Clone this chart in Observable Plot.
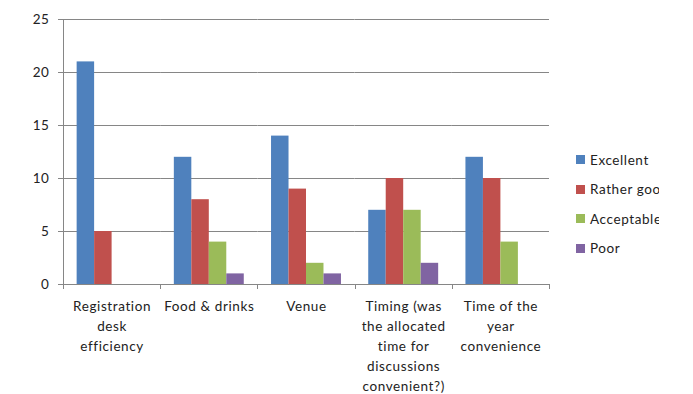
<!DOCTYPE html>
<html>
<head>
<meta charset="utf-8">
<script src="https://cdn.jsdelivr.net/npm/d3@7"></script>
<script src="https://cdn.jsdelivr.net/npm/@observablehq/plot@0.6"></script>
<style>
  html, body { margin: 0; padding: 0; background: #fff; overflow: hidden; }
  #wrap { position: relative; width: 693px; height: 394px; font-family: Lato, "Open Sans", sans-serif; }
  #wrap svg text { letter-spacing: 0.6px; }
  #legend { position: absolute; left: 576px; top: 145px; width: 83px; overflow: hidden; white-space: nowrap; }
  .row { display: flex; align-items: center; height: 29.5px; font-size: 13.5px; letter-spacing: 0.6px; color: #222; }
  .sw { width: 9px; height: 9px; margin-right: 5px; flex: none; }
</style>
</head>
<body>
<div id="wrap"></div>
<script>
// Survey categories and their axis labels (line breaks as wrapped on the axis)
const categories = ["Registration desk efficiency", "Food & drinks", "Venue",
  "Timing (was the allocated time for discussions convenient?)", "Time of the year convenience"];
const categoryLabels = ["Registration\ndesk\nefficiency", "Food & drinks", "Venue",
  "Timing (was\nthe allocated\ntime for\ndiscussions\nconvenient?)", "Time of the\nyear\nconvenience"];

// Rating series and response counts per category
const series = ["Excellent", "Rather good", "Acceptable", "Poor"];
const colors = ["#4F81BD", "#C0504D", "#9BBB59", "#8064A2"];
const excellent  = [21, 12, 14, 7, 12];
const ratherGood = [5, 8, 9, 10, 10];
const acceptable = [0, 4, 2, 7, 4];
const poor       = [0, 1, 1, 2, 0];
const yTicks = [0, 5, 10, 15, 20, 25];

const valuesBySeries = [excellent, ratherGood, acceptable, poor];
const data = [];
categories.forEach((c, i) => series.forEach((s, j) => {
  data.push({category: c, series: s, value: valuesBySeries[j][i]});
}));

const labelOf = new Map(categories.map((c, i) => [c, categoryLabels[i]]));

const chart = Plot.plot({
  width: 693,
  height: 394,
  marginLeft: 63,
  marginRight: 144,
  marginTop: 19,
  marginBottom: 110,
  style: {fontFamily: "Lato, 'Open Sans', sans-serif", fontSize: "13.5px", color: "#222", background: "#fff"},
  fx: {domain: categories, padding: 0, round: false, label: null},
  x: {domain: series, axis: null, paddingInner: 0, paddingOuter: 0.78, round: false},
  y: {domain: [0, 25], label: null},
  color: {domain: series, range: colors},
  marks: [
    Plot.gridY(yTicks, {stroke: "#868686", strokeOpacity: 1, strokeWidth: 1}),
    Plot.barY(data, {fx: "category", x: "series", y: "value", fill: "series"}),
    Plot.ruleY([0], {stroke: "#868686", strokeWidth: 1}),
    Plot.axisY(yTicks, {tickSize: 5, tickPadding: 9, stroke: "#868686", fill: "#222", label: null, fontSize: 13.5}),
    Plot.axisFx({anchor: "bottom", tickSize: 0, tickPadding: 12, lineHeight: 1.48, lineAnchor: "top",
      tickFormat: c => labelOf.get(c), fill: "#222", label: null, fontSize: 13.5})
  ]
});

// Left axis line and category boundary ticks, placed with the chart's own scales
const fx = chart.scale("fx");
const y = chart.scale("y");
const edges = categories.map(c => fx.apply(c));
edges.push(edges[edges.length - 1] + fx.bandwidth);
const y0 = y.apply(0);
const g = d3.select(chart).append("g").attr("stroke", "#868686").attr("stroke-width", 1);
edges.forEach((x, i) => {
  const px = Math.round(x) + 0.5;
  g.append("line").attr("x1", px).attr("x2", px)
    .attr("y1", i === 0 ? y.apply(25) : y0).attr("y2", y0 + 5);
});

const wrap = document.getElementById("wrap");
wrap.appendChild(chart);

// Legend
const legend = d3.select(wrap).append("div").attr("id", "legend");
series.forEach((s, i) => {
  const row = legend.append("div").attr("class", "row");
  row.append("div").attr("class", "sw").style("background", colors[i]);
  row.append("span").text(s);
});
</script>
</body>
</html>
